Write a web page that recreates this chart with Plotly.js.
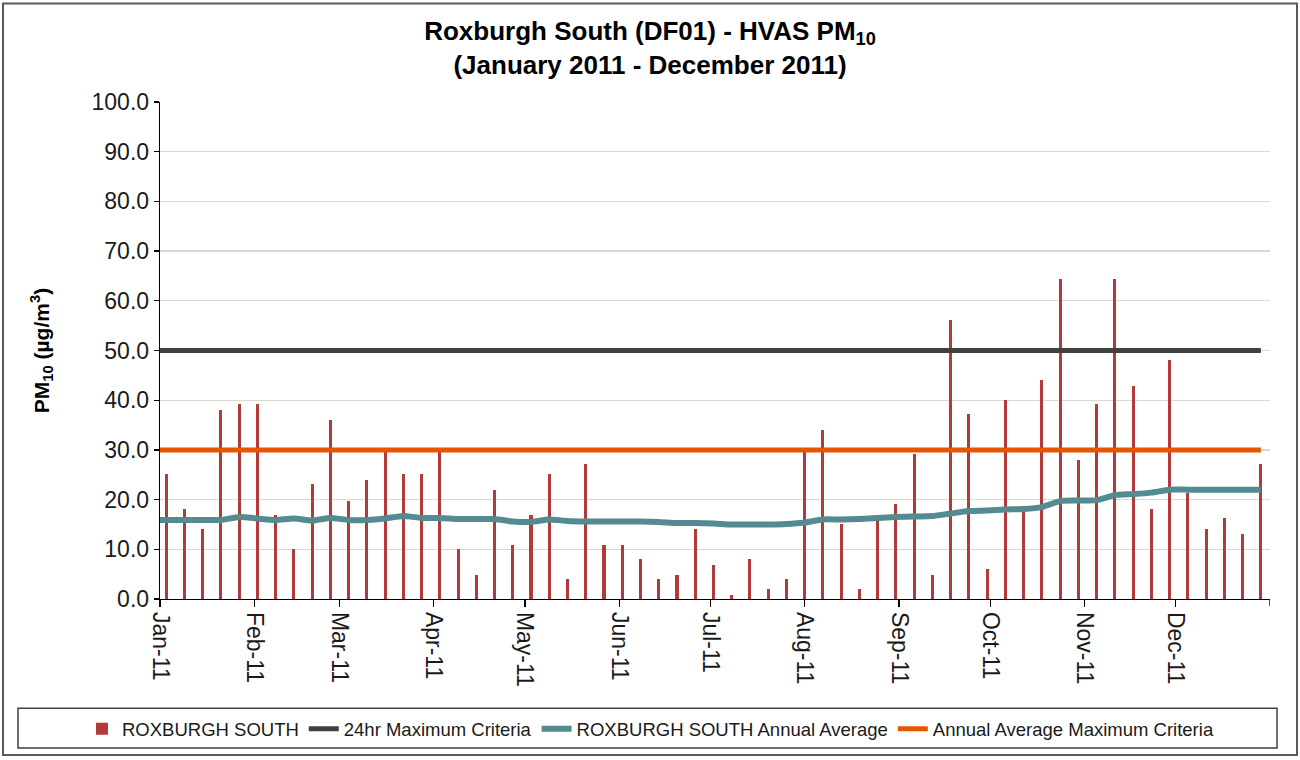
<!DOCTYPE html>
<html>
<head>
<meta charset="utf-8">
<script src="https://cdn.plot.ly/plotly-3.0.1.min.js"></script>
<style>
  html, body { margin: 0; padding: 0; background: #ffffff; }
  #chart { width: 1300px; height: 760px; }
</style>
</head>
<body>
<div id="chart"></div>
<script>
// ---- Data ----
const sampleDates = [
  '2011-01-03','2011-01-09','2011-01-15','2011-01-21','2011-01-27',
  '2011-02-02','2011-02-08','2011-02-14','2011-02-20','2011-02-26',
  '2011-03-04','2011-03-10','2011-03-16','2011-03-22','2011-03-28',
  '2011-04-03','2011-04-09','2011-04-15','2011-04-21','2011-04-27',
  '2011-05-03','2011-05-09','2011-05-15','2011-05-21','2011-05-27',
  '2011-06-02','2011-06-08','2011-06-14','2011-06-20','2011-06-26',
  '2011-07-02','2011-07-08','2011-07-14','2011-07-20','2011-07-26',
  '2011-08-01','2011-08-07','2011-08-13','2011-08-19','2011-08-25','2011-08-31',
  '2011-09-06','2011-09-12','2011-09-18','2011-09-24','2011-09-30',
  '2011-10-06','2011-10-12','2011-10-18','2011-10-24','2011-10-30',
  '2011-11-05','2011-11-11','2011-11-17','2011-11-23','2011-11-29',
  '2011-12-05','2011-12-11','2011-12-17','2011-12-23','2011-12-29'
];
const pm10Values = [
  25.1, 18.1, 14.1, 38.1, 39.2,
  39.2, 17.0, 10.0, 23.1, 36.1,
  19.8, 23.9, 29.6, 25.1, 25.1,
  29.6, 10.1, 4.9, 21.9, 10.9,
  17.0, 25.1, 4.1, 27.1, 10.9,
  10.9, 8.1, 4.1, 4.9, 14.1,
  6.9, 0.9, 8.1, 2.1, 4.1,
  29.6, 34.1, 15.0, 2.1, 17.0, 19.1,
  29.1, 4.9, 56.2, 37.2, 6.1,
  40.1, 17.7, 44.1, 64.3, 27.9,
  39.2, 64.3, 42.9, 18.2, 48.1,
  21.4, 14.1, 16.2, 13.0, 27.1
];
const lineDates = ['2011-01-01'].concat(sampleDates);
const annualAverage = [
  15.9,
  15.9, 15.9, 15.9, 15.9, 16.5,
  16.2, 15.9, 16.2, 15.8, 16.3,
  15.9, 15.9, 16.2, 16.7, 16.3,
  16.3, 16.1, 16.1, 16.1, 15.6,
  15.5, 16.0, 15.7, 15.6, 15.6,
  15.6, 15.6, 15.5, 15.3, 15.3,
  15.2, 15.0, 15.0, 15.0, 15.1,
  15.4, 16.0, 16.0, 16.1, 16.3, 16.5,
  16.6, 16.7, 17.2, 17.7, 17.8,
  18.0, 18.1, 18.5, 19.7, 19.8,
  19.9, 20.9, 21.1, 21.4, 22.0,
  22.0, 22.0, 22.0, 22.0, 22.0
];
const criteria24hr = 50;
const criteriaAnnual = 30;
const monthTickDates = [
  '2011-01-01','2011-02-01','2011-03-01','2011-04-01','2011-05-01','2011-06-01',
  '2011-07-01','2011-08-01','2011-09-01','2011-10-01','2011-11-01','2011-12-01'
];
const monthTickLabels = [
  'Jan-11','Feb-11','Mar-11','Apr-11','May-11','Jun-11',
  'Jul-11','Aug-11','Sep-11','Oct-11','Nov-11','Dec-11'
];
const axisEndDate = '2012-01-01';
const seriesNames = [
  'ROXBURGH SOUTH',
  '24hr Maximum Criteria',
  'ROXBURGH SOUTH Annual Average',
  'Annual Average Maximum Criteria'
];

// ---- Traces ----
const FONT = 'Liberation Sans, Arial, sans-serif';
const traces = [
  {
    type: 'bar', name: seriesNames[0],
    x: sampleDates, y: pm10Values,
    width: 86400000,
    marker: { color: '#b23a3a', line: { width: 0 } },
    hoverinfo: 'skip'
  },
  {
    type: 'scatter', mode: 'lines', name: seriesNames[1],
    x: [lineDates[0], lineDates[lineDates.length - 1]],
    y: [criteria24hr, criteria24hr],
    line: { color: '#404040', width: 5 },
    hoverinfo: 'skip'
  },
  {
    type: 'scatter', mode: 'lines', name: seriesNames[2],
    x: lineDates, y: annualAverage,
    line: { color: '#538b91', width: 6, shape: 'spline', smoothing: 0.6 },
    hoverinfo: 'skip'
  },
  {
    type: 'scatter', mode: 'lines', name: seriesNames[3],
    x: [lineDates[0], lineDates[lineDates.length - 1]],
    y: [criteriaAnnual, criteriaAnnual],
    line: { color: '#e85500', width: 5 },
    hoverinfo: 'skip'
  }
];

// plot area: x 160..1270, y 102..602 (px)
const layout = {
  width: 1300, height: 760,
  margin: { l: 160, r: 30, t: 102, b: 158 },
  paper_bgcolor: '#ffffff', plot_bgcolor: '#ffffff',
  font: { family: FONT, color: '#1a1a1a', size: 17 },
  showlegend: true,
  title: {
    text: '<b>Roxburgh South (DF01) - HVAS PM<sub>10</sub></b><br><b>(January 2011 - December 2011)</b>',
    font: { family: FONT, size: 26, color: '#000000' },
    x: 0.5, xref: 'container', xanchor: 'center',
    y: 1 - 40 / 760, yref: 'container', yanchor: 'middle'
  },
  xaxis: {
    type: 'date',
    range: ['2011-01-01', axisEndDate],
    tickmode: 'array', tickvals: monthTickDates, ticktext: monthTickLabels,
    tickangle: 90,
    ticks: 'outside', ticklen: 7, tickcolor: '#000000', tickwidth: 1.3,
    showline: true, linecolor: '#000000', linewidth: 1.3,
    showgrid: false, zeroline: false,
    tickfont: { family: FONT, size: 23, color: '#1a1a1a' },
    fixedrange: true
  },
  yaxis: {
    range: [0, 100], dtick: 10, tick0: 0, tickformat: '.1f',
    ticks: 'outside', ticklen: 5, tickcolor: '#000000', tickwidth: 1.3,
    showline: true, linecolor: '#000000', linewidth: 1.3,
    showgrid: true, gridcolor: '#d9d9cf', gridwidth: 1.3,
    zeroline: false,
    tickfont: { family: FONT, size: 23, color: '#1a1a1a' },
    title: {
      text: '<b>PM<sub>10</sub> (µg/m<sup>3</sup>)</b>',
      font: { family: FONT, size: 21, color: '#000000' },
      standoff: 36
    },
    fixedrange: true
  },
  bargap: 0,
  legend: {
    orientation: 'h',
    x: (82 - 160) / 1110, xanchor: 'left',
    y: (602 - 733) / 500, yanchor: 'middle',
    font: { family: FONT, size: 18.5, color: '#1a1a1a' },
    bgcolor: 'rgba(0,0,0,0)',
    traceorder: 'normal'
  },
  shapes: [
    // closing tick at the end of the date axis
    { type: 'line', xref: 'x', yref: 'paper',
      x0: axisEndDate, x1: axisEndDate, y0: 0, y1: -7 / 500,
      line: { color: '#000000', width: 1.3 } },
    // legend frame
    { type: 'rect', xref: 'paper', yref: 'paper',
      x0: (18 - 160) / 1110, x1: (1277 - 160) / 1110,
      y0: (602 - 752) / 500, y1: (602 - 712) / 500,
      line: { color: '#404040', width: 1.5 }, fillcolor: 'rgba(0,0,0,0)' },
    // outer chart frame
    { type: 'rect', xref: 'paper', yref: 'paper',
      x0: (3 - 160) / 1110, x1: (1297 - 160) / 1110,
      y0: (602 - 759) / 500, y1: (602 - 3) / 500,
      line: { color: '#5a5a5a', width: 2 }, fillcolor: 'rgba(0,0,0,0)' }
  ],
  hovermode: false
};

Plotly.newPlot('chart', traces, layout, { displayModeBar: false, staticPlot: true });
</script>
</body>
</html>
